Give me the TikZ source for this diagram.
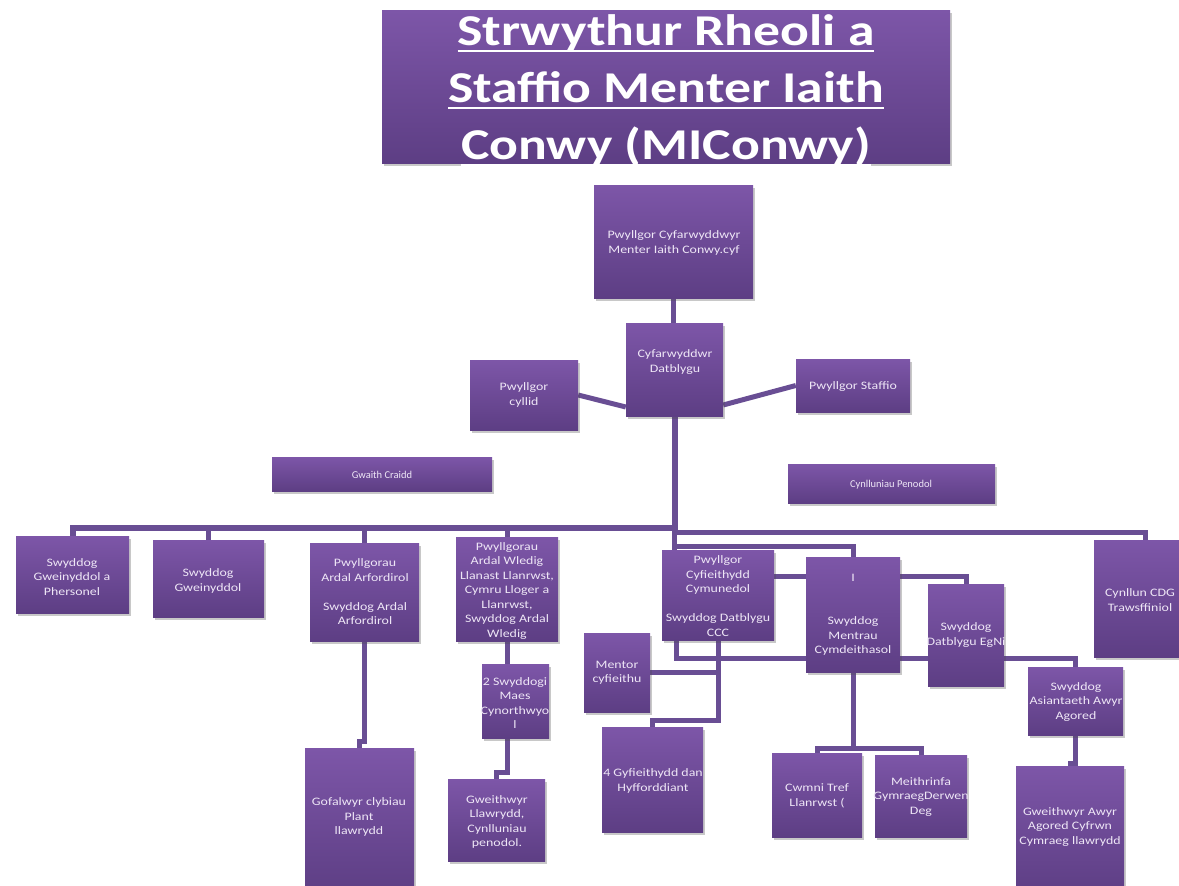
\documentclass[tikz,border=0pt]{standalone}
\usepackage{fontspec}
\setmainfont[FakeStretch=1.22]{Carlito}
\newfontfamily\narrowf{Carlito}
\usetikzlibrary{shadows,backgrounds}
\definecolor{ptop}{RGB}{125,86,168}
\definecolor{pbot}{RGB}{93,62,132}
\definecolor{pline}{RGB}{105,78,148}
\definecolor{ptext}{RGB}{238,230,246}
\newcommand\lsp[1]{\fontsize{11.4}{#1}\selectfont}
\newcommand\myul[1]{\setbox0\hbox{#1}\rlap{\rule[-6pt]{\wd0}{2.4pt}}\box0}
\tikzset{
  pbox/.style={rectangle, inner sep=0pt, top color=ptop, bottom color=pbot, draw=none,
    drop shadow={shadow xshift=2pt, shadow yshift=-3pt, opacity=0.3, fill=black!70}},
  ptxt/.style={text=ptext, align=center, inner sep=0pt, font=\fontsize{11.4}{14.5}\selectfont},
  conn/.style={draw=pline, line width=5pt},
}
\newcommand\bx[8]{%
  \node[pbox, minimum width={(#4-#2)*1pt}, minimum height={(#5-#3)*1pt}] (#1) at ({(#2+#4)/2},{(#3+#5)/2}) {};
  \node[ptxt] (#1t) at (#6,#7) {#8};}
\begin{document}
\begin{tikzpicture}[x=1pt,y=-1pt]
\useasboundingbox (0,0) rectangle (1179,886);
\clip (0,0) rectangle (1179,886);
% title
\node[pbox, minimum width=568pt, minimum height=153pt] (title) at (666,86.5) {};
\node[text=white, align=center, inner sep=0pt, font=\fontsize{44}{57}\selectfont\bfseries] (titlet) at (666,91)
  {\myul{Strwythur Rheoli a}\\\myul{Staffio Menter Iaith}\\\myul{Conwy (MIConwy)}};
% boxes
\bx{top}{594}{185}{753}{298}{674}{243}{\lsp{16}Pwyllgor Cyfarwyddwyr\\Menter Iaith Conwy.cyf}
\bx{cyf}{626}{323}{723}{416}{675}{362}{Cyfarwyddwr\\Datblygu}
\bx{cyllid}{470}{360}{578}{430}{524}{395}{\lsp{18}Pwyllgor\\cyllid}
\bx{staffio}{796}{359}{910}{412}{853}{387}{Pwyllgor Staffio}
\bx{craidd}{272}{457}{492}{491}{382}{475}{\narrowf\fontsize{10.5}{12}\selectfont Gwaith Craidd}
\bx{penodol}{788}{464}{995}{503}{891}{485}{\narrowf\fontsize{10.5}{12}\selectfont Cynlluniau Penodol}
\bx{b1}{16}{536}{129}{613}{72}{577}{\lsp{13.5}Swyddog\\Gweinyddol a\\Phersonel}
\bx{b2}{153}{540}{264}{617}{208}{581}{\lsp{14}Swyddog\\Gweinyddol}
\bx{b3}{310}{543}{419}{641}{365}{592}{\lsp{19.5}Pwyllgorau\\Ardal Arfordirol\\~\\Swyddog Ardal\\Arfordirol}
\bx{b4}{456}{537}{558}{641}{507}{591}{\lsp{18}Pwyllgorau\\Ardal Wledig\\Llanast Llanrwst,\\Cymru Lloger a\\Llanrwst,\\Swyddog Ardal\\Wledig}
\bx{b5}{662}{550}{774}{640}{718}{596}{\lsp{17.5}Pwyllgor\\Cyfieithydd\\Cymunedol\\~\\Swyddog Datblygu\\CCC}
\bx{b6}{806}{557}{900}{672}{853}{615}{\lsp{14}I\\~\\~\\Swyddog\\Mentrau\\Cymdeithasol}
\bx{b7}{928}{584}{1004}{686}{966}{635}{\lsp{15}Swyddog\\Datblygu EgNi}
\bx{b8}{1094}{540}{1196}{657}{1140}{600}{\lsp{15}Cynllun CDG\\Trawsffiniol}
\bx{b9}{1028}{667}{1123}{735}{1076}{702}{\lsp{14}Swyddog\\Asiantaeth Awyr\\Agored}
\bx{mentor}{584}{633}{650}{712}{617}{673}{\lsp{15}Mentor\\cyfieithu}
\bx{swm}{482}{664}{549}{738}{515}{703}{\lsp{14}2 Swyddogi\\Maes\\Cynorthwyo\\l}
\bx{gof}{305}{748}{414}{895}{359}{817}{\lsp{15.5}Gofalwyr clybiau\\Plant\\llawrydd}
\bx{gll}{448}{779}{545}{861}{497}{822}{\lsp{16.5}Gweithwyr\\Llawrydd,\\Cynlluniau\\penodol.}
\bx{gyf}{602}{727}{703}{832}{653}{781}{\lsp{18}4 Gyfieithydd dan\\Hyfforddiant}
\bx{cwmni}{772}{753}{862}{837}{817}{796}{\lsp{15}Cwmni Tref\\Llanrwst (}
\bx{meith}{875}{755}{967}{837}{921}{797}{\lsp{15}Meithrinfa\\GymraegDerwen\\Deg}
\bx{awyr}{1016}{766}{1124}{895}{1070}{827}{\lsp{14}Gweithwyr Awyr\\Agored Cyfrwn\\Cymraeg llawrydd}
% connectors
\begin{scope}[on background layer]
\fill[white] (0,0) rectangle (1179,886);
\draw[conn] (top.south) -- (top.south |- cyf.north);
\draw[conn] (cyllid.east) -- (cyf.west |- 0,407);
\draw[conn] (cyf.east |- 0,405) -- (staffio.west);
\draw[conn, line width=6pt] (cyf.south) -- ++(0,112) -| (b1.north);
\draw[conn] (cyf.south) -- ++(0,112) -| (b2.north);
\draw[conn] (cyf.south) -- ++(0,112) -| (b3.north);
\draw[conn] (cyf.south) -- ++(0,112) -| (b4.north);
\draw[conn] (cyf.south) -- (cyf.south |- b5.north);
\draw[conn] (cyf.south) -- ++(0,130) -| (b6.north);
\draw[conn] (cyf.south) -- ++(0,116) -| (b8.north);
\draw[conn] (b5.east |- 0,576) -| (b7.north);
\draw[conn] ([xshift=-42pt]b5.south) -- ++(0,18) -| (b9.north);
\draw[conn] (b5.south) -- ++(0,80) -| (gyf.north);
\draw[conn] (mentor.east) -- ++(68,0);
\draw[conn] (b6.south) -- ++(0,76) -| (cwmni.north);
\draw[conn] (b6.south) -- ++(0,76) -| (meith.north);
\draw[conn] (b9.south) -- ++(0,28) -| (awyr.north);
\draw[conn] (b3.south) -- ++(0,100) -| (gof.north);
\draw[conn] (b4.south) -- (b4.south |- swm.north);
\draw[conn] ([xshift=-8pt]swm.south) -- ++(0,34) -| (gll.north);
\end{scope}
\end{tikzpicture}
\end{document}
